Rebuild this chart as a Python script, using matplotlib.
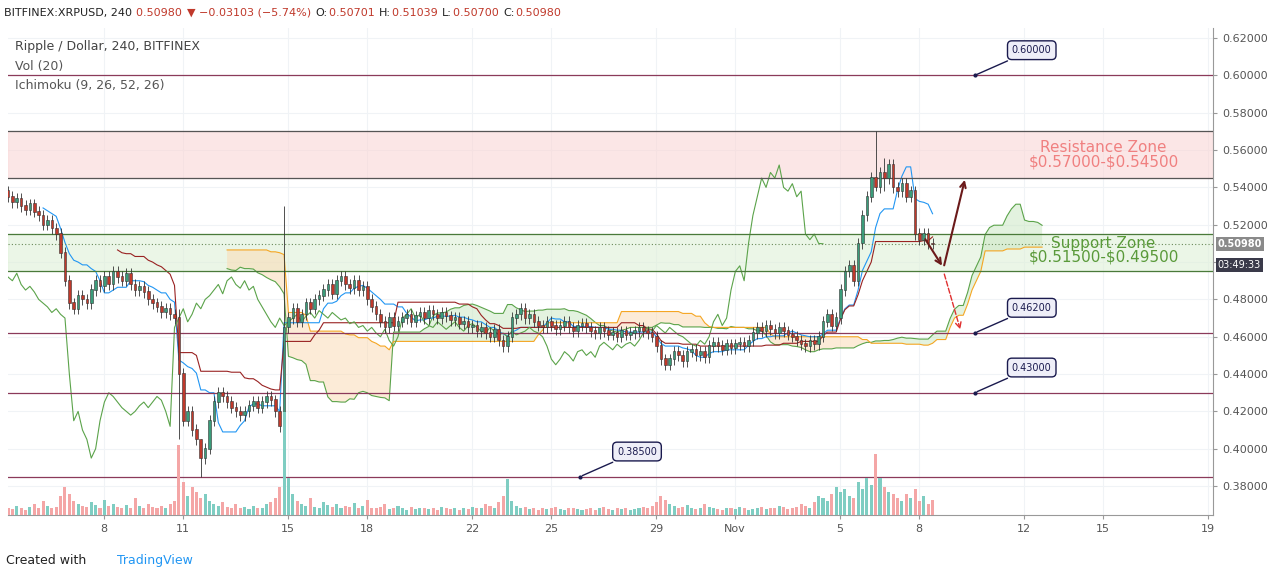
import matplotlib.pyplot as plt
import numpy as np
import pandas as pd

# ---------------------------------------------------------------- data
closes = [
    0.535, 0.532, 0.534, 0.530, 0.528, 0.531,
    0.527, 0.525, 0.520, 0.522, 0.518, 0.515,
    0.505, 0.490, 0.478, 0.475, 0.482, 0.480,
    0.478, 0.485, 0.490, 0.487, 0.492, 0.488,
    0.495, 0.492, 0.490, 0.494, 0.488, 0.485,
    0.487, 0.484, 0.480, 0.478, 0.476, 0.473,
    0.475, 0.472, 0.470, 0.440, 0.415, 0.420,
    0.410, 0.405, 0.395, 0.400, 0.415, 0.425,
    0.430, 0.428, 0.425, 0.422, 0.420, 0.418,
    0.420, 0.423, 0.425, 0.422, 0.425, 0.428,
    0.426, 0.420, 0.412, 0.465, 0.470, 0.475,
    0.468, 0.472, 0.478, 0.475, 0.480, 0.482,
    0.485, 0.488, 0.483, 0.490, 0.492, 0.488,
    0.486, 0.490, 0.485, 0.487, 0.480, 0.476,
    0.472, 0.468, 0.465, 0.470, 0.466, 0.468,
    0.470, 0.472, 0.468, 0.471, 0.473, 0.470,
    0.474, 0.472, 0.470, 0.473, 0.471, 0.469,
    0.470, 0.467, 0.468, 0.465, 0.466, 0.463,
    0.465, 0.462, 0.460, 0.464, 0.458, 0.455,
    0.460, 0.470, 0.472, 0.475, 0.470, 0.472,
    0.468, 0.466, 0.465, 0.468, 0.466, 0.464,
    0.466, 0.468, 0.465, 0.463, 0.466, 0.467,
    0.465, 0.463, 0.462, 0.465, 0.463, 0.461,
    0.462, 0.460, 0.463, 0.461, 0.462, 0.463,
    0.465, 0.463, 0.462, 0.460, 0.455, 0.448,
    0.445, 0.448, 0.452, 0.450, 0.447, 0.452,
    0.453, 0.450, 0.452, 0.449, 0.455, 0.457,
    0.455, 0.453, 0.456, 0.454, 0.456, 0.457,
    0.455, 0.458, 0.462, 0.465, 0.463, 0.466,
    0.464, 0.462, 0.465, 0.463, 0.461, 0.460,
    0.458, 0.456, 0.455, 0.458, 0.456, 0.460,
    0.468, 0.472, 0.466, 0.470, 0.485, 0.495,
    0.498, 0.490, 0.510, 0.525, 0.535, 0.545,
    0.540, 0.548, 0.545, 0.552, 0.540, 0.538,
    0.542, 0.535, 0.538, 0.515, 0.512, 0.515,
    0.510, 0.5098,
]
first_open = 0.538
wick = 0.003
# candles with long wicks: index -> (high, low)
spikes = {39: (0.475, 0.405), 44: (0.405, 0.385), 63: (0.530, 0.405),
          198: (0.570, 0.538), 200: (0.556, 0.538)}

volumes = [
    8, 6, 10, 7, 5, 9, 12, 8, 15, 10, 7, 9,
    20, 30, 22, 15, 12, 10, 9, 14, 11, 8, 16, 10,
    12, 9, 8, 11, 7, 18, 10, 8, 12, 9, 7, 10,
    8, 12, 15, 75, 35, 20, 30, 25, 18, 22, 15, 12,
    10, 14, 9, 8, 12, 7, 9, 6, 10, 8, 7, 12,
    14, 18, 30, 110, 40, 22, 15, 12, 10, 18, 9, 8,
    14, 11, 9, 12, 8, 10, 9, 13, 7, 10, 16, 8,
    7, 9, 12, 6, 8, 10, 7, 5, 9, 6, 8, 7,
    6, 8, 5, 9, 7, 6, 7, 5, 8, 6, 9, 7,
    8, 12, 10, 7, 14, 20, 38, 15, 10, 8, 9, 6,
    7, 5, 8, 6, 7, 9, 6, 5, 7, 8, 6, 5,
    6, 8, 5, 7, 9, 6, 5, 7, 6, 8, 5, 6,
    7, 9, 8, 10, 14, 20, 16, 12, 10, 8, 9, 11,
    7, 6, 8, 12, 9, 7, 6, 5, 8, 7, 6, 9,
    7, 5, 6, 8, 9, 6, 7, 8, 10, 9, 6, 7,
    9, 12, 10, 8, 14, 20, 18, 15, 22, 30, 25, 28,
    20, 18, 35, 28, 40, 32, 65, 40, 30, 25, 22, 18,
    15, 22, 18, 28, 15, 20, 12, 16,
]

price_ticks = [0.38, 0.40, 0.42, 0.44, 0.46, 0.48, 0.50, 0.52, 0.54, 0.56, 0.58, 0.60, 0.62]
date_labels = ['8', '11', '15', '18', '22', '25', '29', 'Nov', '5', '8', '12', '15', '19']
date_days = [0, 3, 7, 10, 14, 17, 21, 24, 28, 31, 35, 38, 42]   # days after Oct 8
levels = [0.600, 0.570, 0.545, 0.515, 0.495, 0.462, 0.430, 0.385]
callouts = [(0.600, 220.6), (0.462, 220.6), (0.430, 220.6), (0.385, 130.5)]
last_price = 0.5098

# ---------------------------------------------------------------- candles
c = np.array(closes)
o = np.concatenate([[first_open], c[:-1]])
h = np.maximum(o, c) + wick
l = np.minimum(o, c) - wick
for k, (hh, ll) in spikes.items():
    h[k], l[k] = hh, ll
n = len(c)
idx = np.arange(n)

hs, ls = pd.Series(h), pd.Series(l)
tenkan = (hs.rolling(9).max() + ls.rolling(9).min()) / 2
kijun = (hs.rolling(26).max() + ls.rolling(26).min()) / 2
spanb_raw = (hs.rolling(52, min_periods=26).max() + ls.rolling(52, min_periods=26).min()) / 2
shift = 25
span_x = idx + shift
span_a = ((tenkan + kijun) / 2).values
span_b = spanb_raw.values

fig = plt.figure(figsize=(12.74, 5.78), dpi=100)
ax = fig.add_axes([8 / 1274, 63 / 578, 1205 / 1274, 487 / 578])
ymin, ymax = 0.3645, 0.6254
ax.set_ylim(ymin, ymax)
ax.set_xlim(0, 275)

# grid
for p in price_ticks:
    ax.axhline(p, color='#f0f3f6', lw=0.8, zorder=0)
date_idx = [21.9 + 6 * d for d in date_days]
for x in date_idx:
    ax.axvline(x, color='#f0f3f6', lw=0.8, zorder=0)

# zones
ax.axhspan(0.545, 0.570, color='#f9d6d6', alpha=0.6, zorder=1)
ax.axhspan(0.495, 0.515, color='#dff0d8', alpha=0.6, zorder=1)

# volume on twin axis
axv = ax.twinx()
axv.set_ylim(0, 520)
axv.set_axis_off()
vcol = ['#7fcdc2' if cc >= oo else '#f4a6a6' for oo, cc in zip(o, c)]
axv.bar(idx, volumes, width=0.7, color=vcol, zorder=1)

# ichimoku cloud
valid = ~np.isnan(span_a) & ~np.isnan(span_b)
ax.fill_between(span_x, span_a, span_b, where=valid & (span_a >= span_b),
                color='#c8e6c0', alpha=0.5, lw=0, interpolate=True, zorder=2)
ax.fill_between(span_x, span_a, span_b, where=valid & (span_a < span_b),
                color='#fbd9b0', alpha=0.5, lw=0, interpolate=True, zorder=2)
ax.plot(span_x, span_a, color='#5ba34a', lw=0.8, zorder=3)
ax.plot(span_x, span_b, color='#f5a623', lw=0.8, zorder=3)
ax.plot(idx, tenkan, color='#2196f3', lw=0.8, zorder=3)
ax.plot(idx, kijun, color='#992222', lw=0.8, zorder=3)
ax.plot(idx - shift, c, color='#5ba34a', lw=0.8, zorder=3)

# candles
up = c >= o
ccol = np.where(up, '#3a9c7a', '#c0392b')
ax.vlines(idx, l, h, color='#333333', lw=0.6, zorder=4)
ax.bar(idx, np.abs(c - o) + 0.0004, bottom=np.minimum(o, c), width=0.6,
       color=ccol, edgecolor='#333333', lw=0.4, zorder=5)

# level lines
for lv in levels:
    col = '#8b3a5a'
    if lv in (0.570, 0.545):
        col = '#555555'
    if lv in (0.515, 0.495):
        col = '#4a7a3a'
    ax.axhline(lv, color=col, lw=0.9, zorder=3)
ax.axhline(last_price, color='#6a8a5a', lw=0.8, ls=(0, (1, 2)), zorder=3)

# zone labels
ax.text(250, 0.5612, 'Resistance Zone', color='#f08080', fontsize=11, ha='center', va='center')
ax.text(250, 0.5535, r'\$0.57000-\$0.54500', color='#f08080', fontsize=11, ha='center', va='center')
ax.text(250, 0.5102, 'Support Zone', color='#5a9a3a', fontsize=11, ha='center', va='center')
ax.text(250, 0.5027, r'\$0.51500-\$0.49500', color='#5a9a3a', fontsize=11, ha='center', va='center')

# callouts
for price, xi in callouts:
    ax.annotate(f'{price:.5f}', xy=(xi, price), xytext=(xi + 8.5, price + 0.0135),
                fontsize=7, color='#1a1a4e', ha='left', va='center',
                bbox=dict(boxstyle='round,pad=0.45', fc='#eeeef8', ec='#1a1a4e', lw=1),
                arrowprops=dict(arrowstyle='-', color='#1a1a4e', lw=1), zorder=6)
    ax.plot(xi, price, 'o', ms=2, color='#1a1a4e', zorder=6)

# projection arrows
ax.annotate('', xy=(213.5, 0.4968), xytext=(209, 0.5135),
            arrowprops=dict(arrowstyle='->', color='#6b1a1a', lw=1.5), zorder=7)
ax.annotate('', xy=(218.5, 0.5455), xytext=(213.5, 0.4968),
            arrowprops=dict(arrowstyle='->', color='#6b1a1a', lw=1.5), zorder=7)
ax.annotate('', xy=(217.5, 0.4625), xytext=(213.5, 0.4950),
            arrowprops=dict(arrowstyle='->', color='#e03030', lw=1, ls='--'), zorder=7)

# axes styling (0.50 label is hidden behind the price/countdown boxes)
ax.yaxis.tick_right()
ax.set_yticks(price_ticks)
ax.set_yticklabels(['' if p == 0.50 else f'{p:.5f}' for p in price_ticks],
                   fontsize=8, color='#555555')
ax.set_xticks(date_idx)
ax.set_xticklabels(date_labels, fontsize=8, color='#555555')
ax.tick_params(length=3, color='#999999')
for s in ['top', 'left']:
    ax.spines[s].set_visible(False)
for s in ['right', 'bottom']:
    ax.spines[s].set_color('#999999')
ax.text(1.004, (last_price - ymin) / (ymax - ymin), f'{last_price:.5f}', transform=ax.transAxes,
        fontsize=7, color='white', fontweight='bold', va='center', ha='left',
        bbox=dict(boxstyle='square,pad=0.2', fc='#8a8a8a', ec='none'))
ax.text(1.004, (last_price - 0.0112 - ymin) / (ymax - ymin), '03:49:33', transform=ax.transAxes,
        fontsize=7, color='white', va='center', ha='left',
        bbox=dict(boxstyle='square,pad=0.2', fc='#3a3a4a', ec='none'))

# legend texts
ax.text(0.006, 0.975, 'Ripple / Dollar, 240, BITFINEX', transform=ax.transAxes,
        fontsize=9, color='#444444', va='top')
ax.text(0.006, 0.935, 'Vol (20)', transform=ax.transAxes, fontsize=9, color='#555555', va='top')
ax.text(0.006, 0.895, 'Ichimoku (9, 26, 52, 26)', transform=ax.transAxes,
        fontsize=9, color='#555555', va='top')

# header, placed piece after piece
header = [('BITFINEX:XRPUSD, 240 ', '#222222'), ('0.50980 ', '#c0392b'),
          ('\u25bc \u22120.03103 (\u22125.74%) ', '#c0392b'),
          ('O:', '#222222'), ('0.50701 ', '#c0392b'),
          ('H:', '#222222'), ('0.51039 ', '#c0392b'),
          ('L:', '#222222'), ('0.50700 ', '#c0392b'),
          ('C:', '#222222'), ('0.50980', '#c0392b')]
renderer = fig.canvas.get_renderer()
px = 4
for txt, col in header:
    t = fig.text(px / 1274, 0.978, txt, fontsize=8, color=col, va='center')
    px += t.get_window_extent(renderer).width + 1

fig.text(0.005, 0.03, 'Created with', fontsize=9, color='#222222', va='center')
fig.text(0.092, 0.03, 'TradingView', fontsize=9, color='#2196f3', va='center')

fig.savefig('out.png', dpi=100)
